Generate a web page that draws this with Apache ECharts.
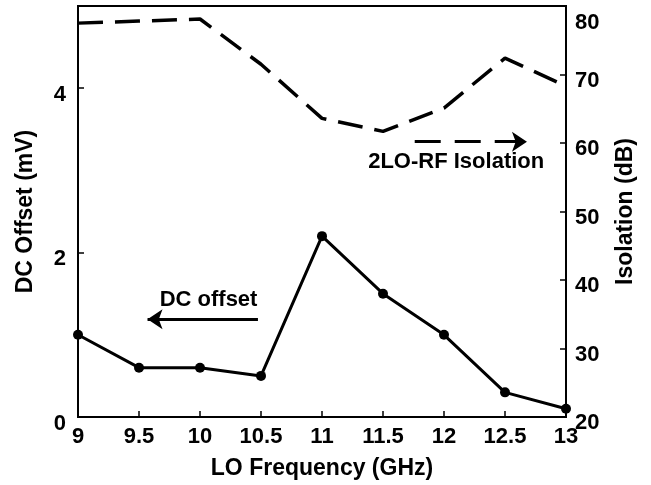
<!DOCTYPE html>
<html>
<head>
<meta charset="utf-8">
<script src="https://cdn.jsdelivr.net/npm/echarts@6/dist/echarts.min.js"></script>
<style>
  html, body { margin: 0; padding: 0; background: #fff; }
  #chart { width: 651px; height: 485px; }
</style>
</head>
<body>
<div id="chart"></div>
<script>
// LO frequency sweep (GHz)
const loFreq = [9, 9.5, 10, 10.5, 11, 11.5, 12, 12.5, 13];
// DC offset at the output (mV), left axis
const dcOffset = [1.0, 0.6, 0.6, 0.5, 2.2, 1.5, 1.0, 0.3, 0.1];
// 2LO-to-RF isolation (dB), right axis
const isolation = [77.5, 77.8, 78.1, 71.5, 63.6, 61.7, 65.1, 72.4, 68.3];

// Annotation callouts: arrow start, arrow end and label anchor, in data units
const dcNote = { text: 'DC offset', from: [10.475, 1.19], to: [9.57, 1.19], at: [10.07, 1.42] };
const isoNote = { text: '2LO-RF Isolation', from: [11.76, 60.2], to: [12.68, 60.2], at: [12.1, 57.3] };

const FONT = '"Liberation Sans", Arial, Helvetica, sans-serif';
const INK = '#000';

const chart = echarts.init(document.getElementById('chart'), null, { renderer: 'canvas' });

const boldText = size => ({ color: INK, fontFamily: FONT, fontWeight: 'bold', fontSize: size });
const TICK = 22;
const NAME = 23;
const NOTE = 22;

chart.setOption({
  animation: false,
  backgroundColor: '#fff',
  grid: {
    left: 78, right: 85, top: 6, bottom: 68,
    show: true, borderColor: INK, borderWidth: 2, backgroundColor: 'transparent'
  },
  xAxis: {
    type: 'value',
    min: 9, max: 13, interval: 0.5,
    name: 'LO Frequency (GHz)',
    nameLocation: 'middle',
    nameGap: 40,
    nameTextStyle: boldText(NAME),
    axisLine: { lineStyle: { color: INK, width: 2 } },
    axisTick: { inside: true, length: 6, lineStyle: { color: INK, width: 1.5 } },
    axisLabel: Object.assign({ margin: 9 }, boldText(TICK)),
    splitLine: { show: false }
  },
  yAxis: [
    {
      type: 'value',
      position: 'left',
      min: 0, max: 5, interval: 2,
      name: 'DC Offset (mV)',
      nameLocation: 'middle',
      nameRotate: 90,
      nameGap: 41,
      nameTextStyle: boldText(NAME),
      axisLine: { show: true, lineStyle: { color: INK, width: 2 } },
      axisTick: { show: true, inside: true, length: 6, lineStyle: { color: INK, width: 1.5 } },
      axisLabel: {
        margin: 12,
        showMaxLabel: false,
        formatter: v => '{v|' + v + '}',
        rich: { v: Object.assign({ padding: [13, 0, 0, 0] }, boldText(TICK)) }
      },
      splitLine: { show: false }
    },
    {
      type: 'value',
      position: 'right',
      min: 20, max: 80, interval: 10,
      name: 'Isolation (dB)',
      nameLocation: 'middle',
      nameRotate: 90,
      nameGap: 48,
      nameTextStyle: boldText(NAME),
      axisLine: { show: true, lineStyle: { color: INK, width: 2 } },
      axisTick: { show: true, inside: true, length: 6, lineStyle: { color: INK, width: 1.5 } },
      axisLabel: {
        margin: 9,
        formatter: v => (v === 80 ? '{top|80}' : '{v|' + v + '}'),
        rich: {
          v: Object.assign({ padding: [12, 0, 0, 0] }, boldText(TICK)),
          top: Object.assign({ padding: [34, 0, 0, 0] }, boldText(TICK))
        }
      },
      splitLine: { show: false }
    }
  ],
  series: [
    {
      name: 'DC offset',
      type: 'line',
      yAxisIndex: 0,
      data: loFreq.map((f, i) => [f, dcOffset[i]]),
      symbol: 'circle',
      symbolSize: 10,
      itemStyle: { color: INK },
      lineStyle: { color: INK, width: 3 },
      z: 3,
      markLine: {
        silent: true,
        symbol: ['none', 'arrow'],
        symbolSize: 15,
        label: { show: false },
        lineStyle: { color: INK, width: 3, type: 'solid' },
        data: [[{ coord: dcNote.from }, { coord: dcNote.to }]]
      },
      markPoint: {
        silent: true,
        symbol: 'circle',
        symbolSize: 0,
        label: Object.assign({ show: true, position: 'inside', formatter: dcNote.text }, boldText(NOTE)),
        data: [{ coord: dcNote.at }]
      }
    },
    {
      name: 'Isolation',
      type: 'line',
      yAxisIndex: 1,
      data: loFreq.map((f, i) => [f, isolation[i]]),
      showSymbol: false,
      symbol: 'none',
      lineStyle: { color: INK, width: 3.5, type: [25, 12] },
      z: 2,
      markLine: {
        silent: true,
        symbol: ['none', 'arrow'],
        symbolSize: 15,
        label: { show: false },
        lineStyle: { color: INK, width: 3, type: [26, 14] },
        data: [[{ coord: isoNote.from }, { coord: isoNote.to }]]
      },
      markPoint: {
        silent: true,
        symbol: 'circle',
        symbolSize: 0,
        label: Object.assign({ show: true, position: 'inside', formatter: isoNote.text }, boldText(NOTE)),
        data: [{ coord: isoNote.at }]
      }
    }
  ]
});
</script>
</body>
</html>
